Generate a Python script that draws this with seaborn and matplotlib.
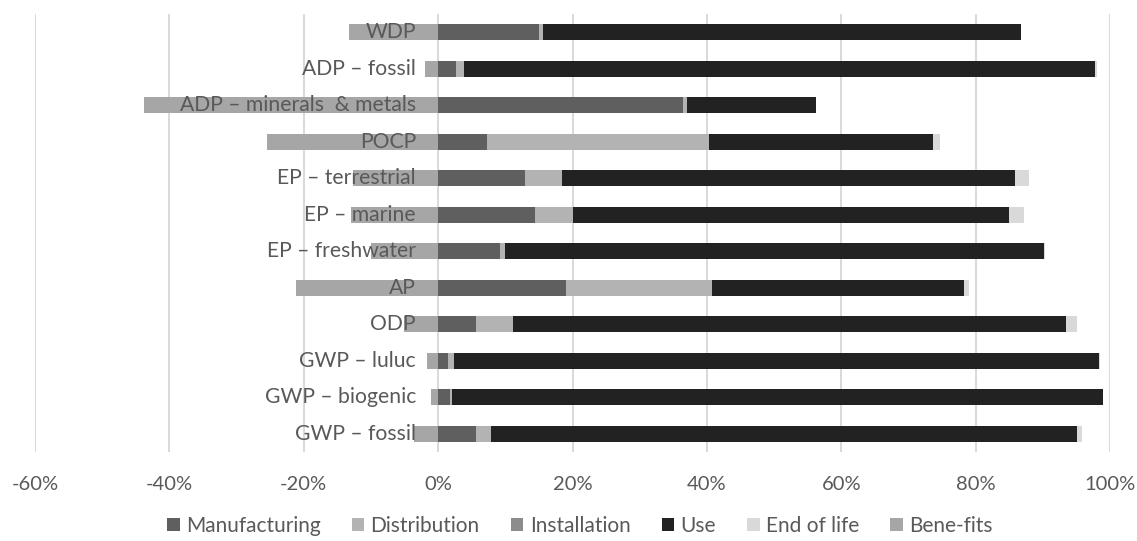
import numpy as np
import matplotlib
matplotlib.use("Agg")
import matplotlib.pyplot as plt
from matplotlib.patches import Patch
import seaborn as sns

# Impact categories, listed top to bottom
categories = [
    "WDP", "ADP – fossil", "ADP – minerals  & metals", "POCP",
    "EP – terrestrial", "EP – marine", "EP – freshwater", "AP",
    "ODP", "GWP – luluc", "GWP – biogenic", "GWP – fossil",
]

# Share of each life-cycle stage (%)
manufacturing = [15.0, 2.6, 36.5, 7.3, 12.9, 14.4, 9.2, 19.1, 5.6, 1.5, 1.8, 5.6]
distribution = [0.6, 1.2, 0.5, 33.0, 5.6, 5.7, 0.75, 21.6, 5.6, 0.8, 0.2, 2.3]
installation = [0.0, 0.0, 0.0, 0.0, 0.0, 0.0, 0.0, 0.0, 0.0, 0.0, 0.0, 0.0]
use = [71.1, 93.9, 19.3, 33.4, 67.3, 64.9, 80.2, 37.6, 82.2, 96.1, 97.0, 87.2]
end_of_life = [0.0, 0.35, 0.0, 1.0, 2.1, 2.2, 0.15, 0.75, 1.7, 0.1, 0.0, 0.8]
benefits = [-13.2, -2.0, -43.8, -25.5, -12.6, -13.0, -10.0, -21.2, -5.1, -1.7, -1.0, -3.6]

stage_names = ["Manufacturing", "Distribution", "Installation", "Use", "End of life", "Bene-fits"]
stage_colors = ["#5f5f5f", "#b3b3b3", "#8c8c8c", "#222222", "#d9d9d9", "#a6a6a6"]
x_ticks = [-60, -40, -20, 0, 20, 40, 60, 80, 100]

TEXT = "#595959"

sns.set_theme(style="white")
plt.rcParams["font.family"] = ["Lato", "DejaVu Sans"]

fig = plt.figure(figsize=(11.37, 5.41), dpi=100)
ax = fig.add_axes([35 / 1137, 89 / 541, 1075 / 1137, 438 / 541])

# Stacked bars: draw cumulative totals from the outermost stage inwards
positive = np.array([manufacturing, distribution, installation, use, end_of_life])
cumulative = np.cumsum(positive, axis=0)
for i in reversed(range(len(positive))):
    sns.barplot(x=cumulative[i], y=categories, orient="h", color=stage_colors[i],
                saturation=1, width=0.44, errorbar=None, linewidth=0, ax=ax, zorder=2)

# Credits beyond the system boundary extend to the left of zero
sns.barplot(x=benefits, y=categories, orient="h", color=stage_colors[5],
            saturation=1, width=0.44, errorbar=None, linewidth=0, ax=ax, zorder=2)

ax.set_xlim(-60, 100)
ax.set_ylim(len(categories) - 0.5, -0.5)
ax.set_xticks(x_ticks)
ax.set_xticklabels([f"{t}%" for t in x_ticks])
ax.set_yticks([])
ax.set_xlabel("")
ax.set_ylabel("")
ax.grid(axis="x", color="#d9d9d9", linewidth=1.4)
ax.set_axisbelow(True)
for s in ax.spines.values():
    s.set_visible(False)
ax.tick_params(axis="x", length=0, pad=17, labelsize=14.5, labelcolor=TEXT)

# Category names sit just left of the zero line, on top of the bars
for i, name in enumerate(categories):
    ax.text(-3.3, i, name, ha="right", va="center", fontsize=15.2, color=TEXT, zorder=5)

handles = [Patch(facecolor=c, edgecolor="none") for c in stage_colors]
fig.legend(handles, stage_names, loc="center", bbox_to_anchor=(0.51, 0.028), ncol=6,
           frameon=False, fontsize=15, handlelength=0.6, handleheight=0.6,
           handletextpad=0.3, columnspacing=1.5, labelcolor=TEXT,
           borderpad=0.1)

fig.savefig("out.png", dpi=100)
